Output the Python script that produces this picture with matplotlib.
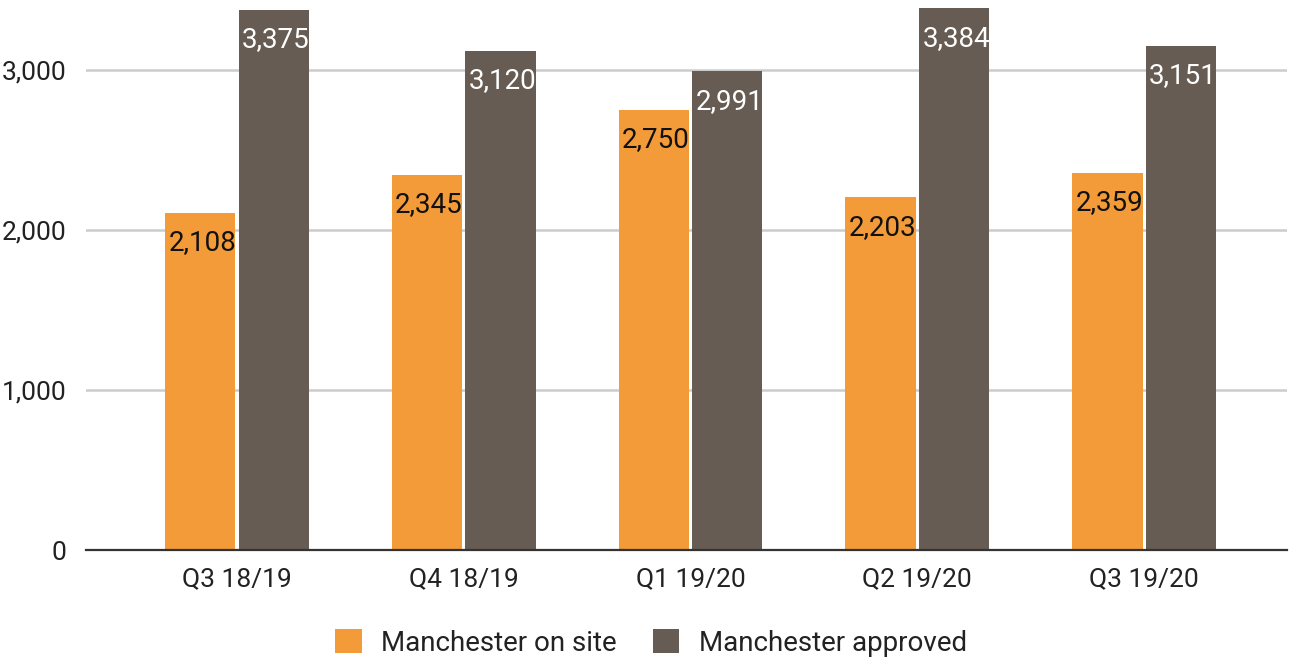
import matplotlib
matplotlib.use("Agg")
import matplotlib.pyplot as plt
from matplotlib.patches import Patch
import numpy as np

quarters = ["Q3 18/19", "Q4 18/19", "Q1 19/20", "Q2 19/20", "Q3 19/20"]
on_site = [2108, 2345, 2750, 2203, 2359]
approved = [3375, 3120, 2991, 3384, 3151]
series_names = ["Manchester on site", "Manchester approved"]
yticks = [0, 1000, 2000, 3000]

ORANGE = "#F29B38"
BROWN = "#675C53"

plt.rcParams["font.family"] = ["Roboto", "DejaVu Sans"]

fig = plt.figure(figsize=(13.01, 6.61), dpi=100)
ax = fig.add_axes([86 / 1301, 111 / 661, (1287 - 86) / 1301, 550 / 661])

x = np.arange(len(quarters))
w = 0.31
off = 0.162
bars_a = ax.bar(x - off, on_site, w, color=ORANGE, zorder=3)
bars_b = ax.bar(x + off, approved, w, color=BROWN, zorder=3)

ax.set_xlim(-0.666, 4.63)
ax.set_ylim(0, 3437)
ax.set_yticks(yticks)
ax.set_yticklabels([f"{v:,}" for v in yticks])
ax.set_xticks(x)
ax.set_xticklabels(quarters)
ax.tick_params(axis="both", length=0, labelsize=19, colors="#222222")
ax.tick_params(axis="y", pad=14)
ax.tick_params(axis="x", pad=12)
ax.grid(axis="y", color="#CCCCCC", linewidth=1.8, zorder=0)
for s in ["top", "right", "left"]:
    ax.spines[s].set_visible(False)
ax.spines["bottom"].set_color("#333333")
ax.spines["bottom"].set_linewidth(1.6)
ax.spines["bottom"].set_zorder(4)

# value labels sit inside the top of each bar and are clipped to it
for bars, vals, tc in [(bars_a, on_site, "#111111"), (bars_b, approved, "white")]:
    for b, v in zip(bars, vals):
        cx = b.get_x() + b.get_width() / 2
        t = ax.annotate(f"{v:,}", xy=(cx, v), xytext=(2, -30),
                        textcoords="offset pixels", ha="center", va="center",
                        fontsize=20, color=tc, zorder=5)
        t.set_clip_path(b)

handles = [Patch(facecolor=ORANGE, edgecolor="none"),
           Patch(facecolor=BROWN, edgecolor="none")]
fig.legend(handles, series_names, loc="center", bbox_to_anchor=(651 / 1301, 1 - 643 / 661),
           ncol=2, frameon=False, fontsize=20, handlelength=0.95, handleheight=0.95,
           handletextpad=0.7, columnspacing=1.3, labelcolor="#222222")

fig.savefig("out.png", dpi=100, facecolor="white")
